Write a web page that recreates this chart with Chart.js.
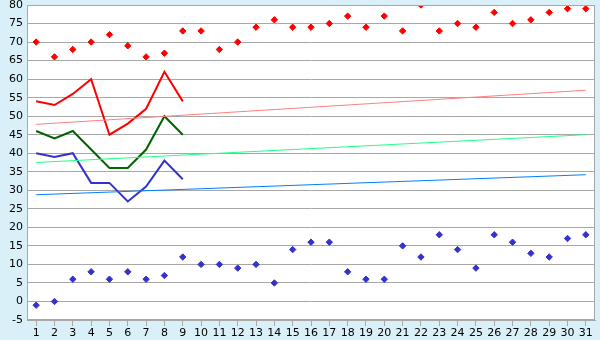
<!DOCTYPE html>
<html>
<head>
<meta charset="utf-8">
<script src="https://cdn.jsdelivr.net/npm/chart.js@4"></script>
<style>
  html, body { margin: 0; padding: 0; background: #d9f0f8; }
  #wrap { width: 600px; height: 340px; }
</style>
</head>
<body>
<div id="wrap"><canvas id="chart" width="600" height="340"></canvas></div>
<script>
// Days of the month
const days = ['1','2','3','4','5','6','7','8','9','10','11','12','13','14','15','16',
              '17','18','19','20','21','22','23','24','25','26','27','28','29','30','31'];

// Scatter series (whole month)
const highPoints = [70, 66, 68, 70, 72, 69, 66, 67, 73, 73, 68, 70, 74, 76, 74, 74,
                    75, 77, 74, 77, 73, 80, 73, 75, 74, 78, 75, 76, 78, 79, 79];
const lowPoints = [-1, 0, 6, 8, 6, 8, 6, 7, 12, 10, 10, 9, 10, 5, 14, 16,
                   16, 8, 6, 6, 15, 12, 18, 14, 9, 18, 16, 13, 12, 17, 18];

// Line series (first nine days)
const redLine = [54, 53, 56, 60, 45, 48, 52, 62, 54];
const greenLine = [46, 44, 46, 41, 36, 36, 41, 50, 45];
const blueLine = [40, 39, 40, 32, 32, 27, 31, 38, 33];

// Trend lines: value at first day and at last day
const redTrend = [47.8, 57.0];
const greenTrend = [37.5, 45.0];
const blueTrend = [28.8, 34.2];

const yTicks = { min: -5, max: 80, step: 5 };

// Put the two trend ends on the first and last day, nothing in between
function trendData(ends) {
    return days.map((d, i) => i === 0 ? ends[0] : (i === days.length - 1 ? ends[1] : null));
}

const gridGray = '#a8a8a8';

// Light blue outside, white plot area, grey frame
const backdrop = {
    id: 'backdrop',
    beforeDraw(chart) {
        const c = chart.ctx, a = chart.chartArea;
        c.save();
        c.fillStyle = '#d9f0f8';
        c.fillRect(0, 0, chart.width, chart.height);
        c.fillStyle = '#ffffff';
        c.fillRect(a.left, a.top, a.right - a.left, a.bottom - a.top);
        c.restore();
    },
    afterDatasetsDraw(chart) {
        const c = chart.ctx, a = chart.chartArea;
        c.save();
        c.strokeStyle = gridGray;
        c.lineWidth = 1;
        c.strokeRect(a.left + 0.5, a.top + 0.5, a.right - a.left - 1, a.bottom - a.top - 1);
        c.restore();
    }
};

const scatterStyle = (color) => ({
    showLine: false,
    pointStyle: 'rectRot',
    pointRadius: 3.2,
    pointBackgroundColor: color,
    pointBorderColor: color,
    pointBorderWidth: 1,
    borderColor: color,
    backgroundColor: color
});

const lineStyle = (color, width) => ({
    borderColor: color,
    backgroundColor: color,
    borderWidth: width,
    pointRadius: 0,
    tension: 0,
    fill: false
});

new Chart(document.getElementById('chart').getContext('2d'), {
    type: 'line',
    data: {
        labels: days,
        datasets: [
            { data: trendData(redTrend), spanGaps: true, ...lineStyle('#ff8080', 1) },
            { data: trendData(greenTrend), spanGaps: true, ...lineStyle('#22ff88', 1) },
            { data: trendData(blueTrend), spanGaps: true, ...lineStyle('#0080ff', 1) },
            { data: redLine, ...lineStyle('#ff0000', 2) },
            { data: greenLine, ...lineStyle('#006400', 2) },
            { data: blueLine, ...lineStyle('#3333cc', 2) },
            { data: highPoints, ...scatterStyle('#ff0000') },
            { data: lowPoints, ...scatterStyle('#3333cc') }
        ]
    },
    options: {
        responsive: false,
        animation: false,
        layout: { padding: { top: 5, right: 5, left: 0, bottom: 0 } },
        plugins: {
            legend: { display: false },
            tooltip: { enabled: false }
        },
        scales: {
            x: {
                offset: true,
                grid: {
                    offset: false,
                    drawOnChartArea: false,
                    drawTicks: true,
                    tickLength: 6,
                    color: gridGray
                },
                border: { color: gridGray },
                ticks: {
                    color: '#000',
                    font: { family: 'DejaVu Sans', size: 11 },
                    padding: 1,
                    maxRotation: 0,
                    autoSkip: false
                },
                afterFit(scale) {
                    scale.height = 20;
                    scale.paddingLeft = 0;
                    scale.paddingRight = 0;
                }
            },
            y: {
                min: yTicks.min,
                max: yTicks.max,
                ticks: {
                    stepSize: yTicks.step,
                    color: '#000',
                    font: { family: 'DejaVu Sans', size: 11 },
                    padding: 4
                },
                grid: {
                    color: gridGray,
                    drawTicks: false
                },
                border: { color: gridGray },
                afterFit(scale) {
                    scale.width = 27;
                    scale.paddingTop = 0;
                    scale.paddingBottom = 0;
                }
            }
        }
    },
    plugins: [backdrop]
});
</script>
</body>
</html>
